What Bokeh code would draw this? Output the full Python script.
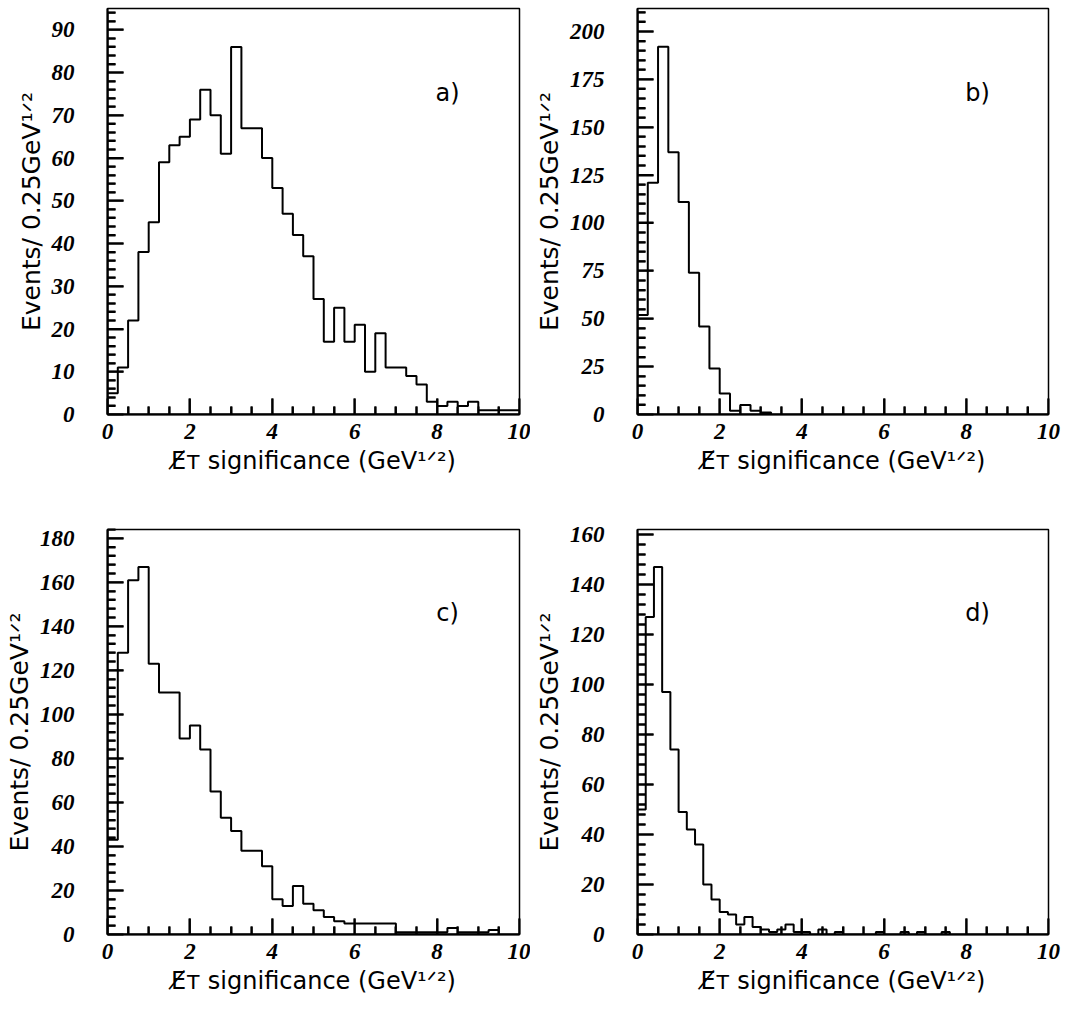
from bokeh.plotting import figure
from bokeh.layouts import column, row
from bokeh.models import Label, FixedTicker, Range1d
from bokeh.embed import file_html
from bokeh.resources import INLINE

# ---------------- data ----------------
x_ticks = [0, 2, 4, 6, 8, 10]
x_minor_ticks = [0.5, 1, 1.5, 2.5, 3, 3.5, 4.5, 5, 5.5, 6.5, 7, 7.5, 8.5, 9, 9.5]

# panel a) bins of 0.25
a_bin = 0.25
a_counts = [5, 11, 22, 38, 45, 59, 63, 65, 69, 76, 70, 61, 86, 67, 67, 60, 53, 47, 42, 37,
            27, 17, 25, 17, 21, 10, 19, 11, 11, 9, 7, 3, 2, 3, 2, 3, 1, 1, 1, 1]
a_ymax = 95
a_yticks = [0, 10, 20, 30, 40, 50, 60, 70, 80, 90]
a_yminor_step = 2

# panel b) bins of 0.25
b_bin = 0.25
b_counts = [52, 121, 192, 137, 111, 74, 46, 24, 11, 2, 5, 2, 1, 0, 0, 0, 0, 0, 0, 0,
            0, 0, 0, 0, 0, 0, 0, 0, 0, 0, 0, 0, 0, 0, 0, 0, 0, 0, 0, 0]
b_ymax = 212
b_yticks = [0, 25, 50, 75, 100, 125, 150, 175, 200]
b_yminor_step = 5

# panel c) bins of 0.25
c_bin = 0.25
c_counts = [43, 128, 161, 167, 123, 110, 110, 89, 95, 84, 65, 53, 47, 38, 38, 31, 16, 13, 22, 14,
            11, 8, 6, 5, 5, 5, 5, 5, 1, 1, 1, 1, 1, 3, 1, 1, 1, 2, 0, 0]
c_ymax = 184
c_yticks = [0, 20, 40, 60, 80, 100, 120, 140, 160, 180]
c_yminor_step = 4

# panel d) bins of 0.2
d_bin = 0.2
d_counts = [50, 127, 147, 97, 74, 49, 42, 36, 20, 14, 9, 8, 4, 7, 3, 2, 1, 2, 4, 1,
            1, 0, 2, 0, 1, 0, 0, 0, 0, 1, 0, 0, 1, 0, 1, 0, 0, 1, 0, 0,
            0, 0, 0, 0, 0, 0, 0, 0, 0, 0]
d_ymax = 162
d_yticks = [0, 20, 40, 60, 80, 100, 120, 140, 160]
d_yminor_step = 4

panel_letters = ["a)", "b)", "c)", "d)"]
y_title = "Events/ 0.25GeV\u00b9\u141f\u00b2"
x_title = "E\u0338\u1d1b significance (GeV\u00b9\u141f\u00b2)"

TITLE_FONT = "DejaVu Sans"
MAJ_LEN = 16
MIN_LEN = 8


def step_path(width, counts):
    xs, ys = [0.0], [0.0]
    for i, c in enumerate(counts):
        xs += [i * width, (i + 1) * width]
        ys += [c, c]
    xs.append(len(counts) * width)
    ys.append(0.0)
    return xs, ys


def make_panel(counts, binw, ymax, yticks, ystep, letter, w, h, bl, br, bt, bb):
    p = figure(width=w, height=h, x_range=Range1d(0, 10), y_range=Range1d(0, ymax),
               output_backend="svg", toolbar_location=None,
               min_border_left=bl, min_border_right=br, min_border_top=bt, min_border_bottom=bb)
    p.grid.visible = False
    p.outline_line_color = "black"
    p.outline_line_width = 1.5
    p.background_fill_color = "white"
    p.border_fill_color = "white"

    fw = w - bl - br
    fh = h - bt - bb
    dx = 10.0 / fw          # data units per pixel, x
    dy = ymax / fh          # data units per pixel, y

    yminor = [v for v in range(0, int(ymax) + 1, ystep) if v not in yticks]

    # one continuous path: inward ticks along the x axis (out and back), back along the axis,
    # inward ticks up the y axis, then the histogram steps
    xt = sorted([(float(t), MAJ_LEN) for t in x_ticks] + [(float(t), MIN_LEN) for t in x_minor_ticks])
    yt = sorted([(float(t), MAJ_LEN) for t in yticks] + [(float(t), MIN_LEN) for t in yminor])
    px, py = [0.0], [0.0]
    for t, L in xt:
        px += [t, t, t]
        py += [0.0, L * dy, 0.0]
    px.append(0.0); py.append(0.0)
    for t, L in yt:
        px += [0.0, L * dx, 0.0]
        py += [t, t, t]
    px.append(0.0); py.append(0.0)
    hx, hy = step_path(binw, counts)
    px += hx
    py += hy
    p.line(px, py, line_color="black", line_width=2, line_join="bevel")

    for ax, ticks, minor in ((p.xaxis[0], x_ticks, x_minor_ticks), (p.yaxis[0], yticks, yminor)):
        ax.ticker = FixedTicker(ticks=ticks, minor_ticks=minor)
        ax.major_tick_in = MAJ_LEN
        ax.major_tick_out = 0
        ax.minor_tick_in = MIN_LEN
        ax.minor_tick_out = 0
        ax.major_tick_line_width = 2
        ax.minor_tick_line_width = 2
        ax.axis_line_width = 2
        ax.major_label_text_font = "Liberation Serif"
        ax.major_label_text_font_style = "bold italic"
        ax.major_label_text_font_size = "23px"
        ax.major_label_text_color = "black"
        ax.axis_label_text_font = TITLE_FONT
        ax.axis_label_text_font_style = "normal"
        ax.axis_label_text_color = "black"
    p.xaxis[0].axis_label_text_font_size = "24px"
    p.yaxis[0].axis_label_text_font_size = "25px"
    p.xaxis[0].major_label_standoff = 9
    p.yaxis[0].major_label_standoff = 33
    p.xaxis[0].axis_label = x_title
    p.yaxis[0].axis_label = y_title
    p.xaxis[0].axis_label_standoff = 5
    p.yaxis[0].axis_label_standoff = 3

    p.add_layout(Label(x=340, y=322, x_units="screen", y_units="screen", text=letter,
                       text_font=TITLE_FONT, text_font_size="24px", text_align="center",
                       text_baseline="middle", text_color="black"))
    return p


pa = make_panel(a_counts, a_bin, a_ymax, a_yticks, a_yminor_step, panel_letters[0],
                530, 505, 107, 11, 8, 91)
pb = make_panel(b_counts, b_bin, b_ymax, b_yticks, b_yminor_step, panel_letters[1],
                537, 505, 107, 19, 7, 91)
pc = make_panel(c_counts, c_bin, c_ymax, c_yticks, c_yminor_step, panel_letters[2],
                530, 504, 107, 11, 24, 75)
pd = make_panel(d_counts, d_bin, d_ymax, d_yticks, d_yminor_step, panel_letters[3],
                537, 504, 107, 19, 24, 75)

layout = column(row(pa, pb), row(pc, pd))
open("out.html", "w").write(file_html(layout, INLINE))
